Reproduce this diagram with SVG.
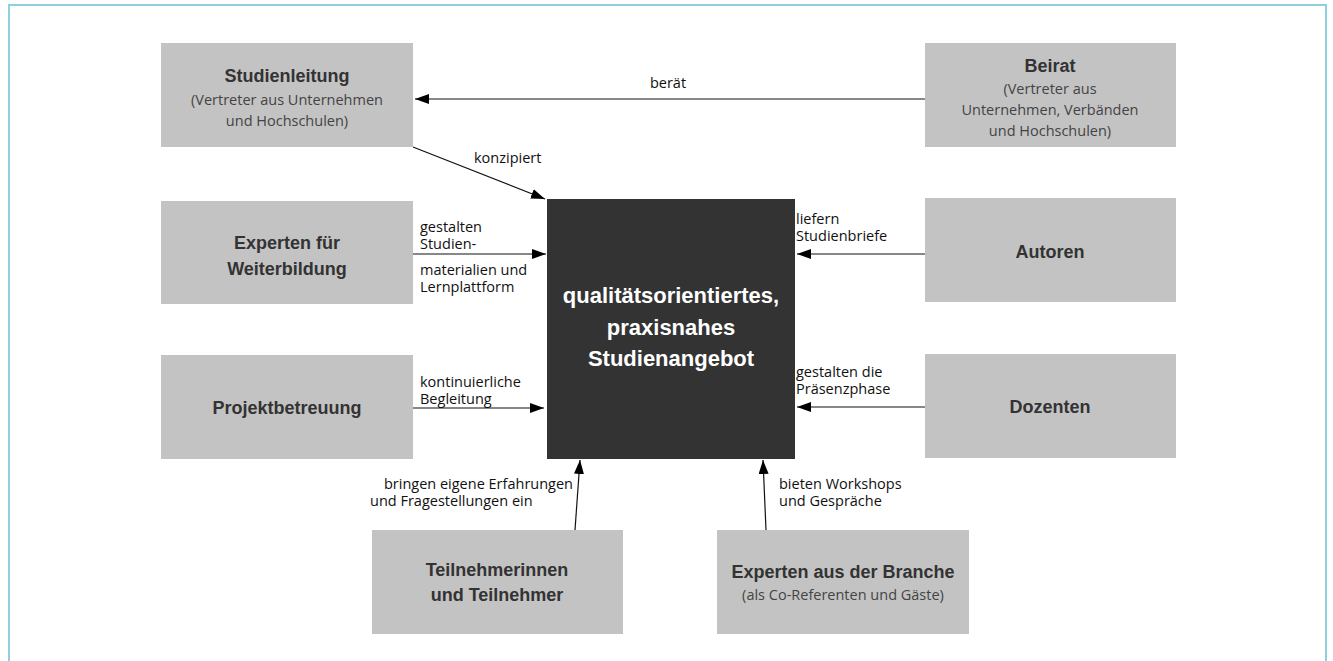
<svg xmlns="http://www.w3.org/2000/svg" width="1333" height="661" viewBox="0 0 1333 661">
<style>
.box{fill:#c3c3c3}
.t{font-family:"Liberation Sans",Arial,sans-serif;font-weight:bold;font-size:18px;fill:#333;text-anchor:middle}
.s{font-family:"Open Sans","Liberation Sans",sans-serif;font-size:14.5px;fill:#444;text-anchor:middle}
.c{font-family:"Liberation Sans",Arial,sans-serif;font-weight:bold;font-size:22px;fill:#fff;text-anchor:middle}
.l{font-family:"Open Sans","Liberation Sans",sans-serif;font-size:14.5px;fill:#111}
.e{stroke:#111;stroke-width:1.2;fill:none;marker-end:url(#ah)}
</style>
<defs>
<marker id="ah" viewBox="0 0 14 10" refX="14" refY="5" markerWidth="14" markerHeight="10" markerUnits="userSpaceOnUse" orient="auto">
<path d="M0,0 L14,5 L0,10 Z" fill="#000"/>
</marker>
</defs>
<rect x="0" y="0" width="1333" height="661" fill="#fff"/>
<path d="M9,670 L9,5 L1326,5 L1326,670" fill="none" stroke="#8fd0de" stroke-width="2"/>

<g id="connectors">
<line class="e" x1="925" y1="99" x2="415" y2="99"/>
<line class="e" x1="413" y1="147" x2="545" y2="199"/>
<line class="e" x1="413" y1="254" x2="546" y2="254"/>
<line class="e" x1="413" y1="408" x2="544" y2="408"/>
<line class="e" x1="925" y1="254" x2="797" y2="254"/>
<line class="e" x1="925" y1="407" x2="797" y2="407"/>
<line class="e" x1="575" y1="530" x2="580" y2="460"/>
<line class="e" x1="766" y1="530" x2="763" y2="460"/>
<text class="l" x="668" y="88" text-anchor="middle">berät</text>
<text class="l" x="474" y="163">konzipiert</text>
<text class="l" x="420" y="232">gestalten</text>
<text class="l" x="420" y="249">Studien-</text>
<text class="l" x="420" y="275">materialien und</text>
<text class="l" x="420" y="292">Lernplattform</text>
<text class="l" x="420" y="387">kontinuierliche</text>
<text class="l" x="420" y="404">Begleitung</text>
<text class="l" x="796" y="224">liefern</text>
<text class="l" x="796" y="241">Studienbriefe</text>
<text class="l" x="796" y="377">gestalten die</text>
<text class="l" x="796" y="394">Präsenzphase</text>
<text class="l" x="573" y="489" text-anchor="end">bringen eigene Erfahrungen</text>
<text class="l" x="370" y="506">und Fragestellungen ein</text>
<text class="l" x="779" y="489">bieten Workshops</text>
<text class="l" x="779" y="506">und Gespräche</text>
</g>

<g id="studienleitung">
<rect class="box" x="161" y="43" width="252" height="104"/>
<text class="t" x="287" y="82">Studienleitung</text>
<text class="s" x="287" y="105">(Vertreter aus Unternehmen</text>
<text class="s" x="287" y="126">und Hochschulen)</text>
</g>
<g id="beirat">
<rect class="box" x="925" y="43" width="251" height="104"/>
<text class="t" x="1050" y="72">Beirat</text>
<text class="s" x="1050" y="94">(Vertreter aus</text>
<text class="s" x="1050" y="115">Unternehmen, Verbänden</text>
<text class="s" x="1050" y="136">und Hochschulen)</text>
</g>
<g id="experten-weiterbildung">
<rect class="box" x="161" y="201" width="252" height="103"/>
<text class="t" x="287" y="249">Experten für</text>
<text class="t" x="287" y="275">Weiterbildung</text>
</g>
<g id="projektbetreuung">
<rect class="box" x="161" y="355" width="252" height="104"/>
<text class="t" x="287" y="414">Projektbetreuung</text>
</g>
<g id="autoren">
<rect class="box" x="925" y="198" width="251" height="104"/>
<text class="t" x="1050" y="258">Autoren</text>
</g>
<g id="dozenten">
<rect class="box" x="925" y="354" width="251" height="104"/>
<text class="t" x="1050" y="413">Dozenten</text>
</g>
<g id="teilnehmer">
<rect class="box" x="372" y="530" width="251" height="104"/>
<text class="t" x="497" y="576">Teilnehmerinnen</text>
<text class="t" x="497" y="601">und Teilnehmer</text>
</g>
<g id="experten-branche">
<rect class="box" x="717" y="530" width="252" height="104"/>
<text class="t" x="843" y="578">Experten aus der Branche</text>
<text class="s" x="843" y="600">(als Co-Referenten und Gäste)</text>
</g>
<g id="studienangebot">
<rect x="547" y="199" width="248" height="260" fill="#333"/>
<text class="c" x="671" y="303">qualitätsorientiertes,</text>
<text class="c" x="671" y="335">praxisnahes</text>
<text class="c" x="671" y="366">Studienangebot</text>
</g>
</svg>
